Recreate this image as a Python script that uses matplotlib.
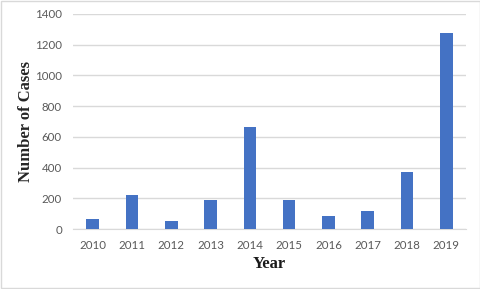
import matplotlib.pyplot as plt
import numpy as np

years = ['2010', '2011', '2012', '2013', '2014', '2015', '2016', '2017', '2018', '2019']
cases = [65, 220, 52, 189, 665, 189, 85, 117, 371, 1276]
yticks = [0, 200, 400, 600, 800, 1000, 1200, 1400]

fig = plt.figure(figsize=(4.81, 2.89), dpi=100)
# light border round the chart area
fig.patches.append(plt.Rectangle((0.002, 0.003), 0.995, 0.994, transform=fig.transFigure,
                                 fill=False, edgecolor='#d9d9d9', linewidth=1))
ax = fig.add_axes([73 / 481, 1 - 229 / 289, 393 / 481, 215 / 289])

x = np.arange(len(years))
ax.bar(x, cases, width=0.32, color='#4472c4', zorder=3)

ax.set_xlim(-0.5, len(years) - 0.5)
ax.set_ylim(0, 1400)
ax.set_yticks(yticks)
ax.set_xticks(x)
ax.set_xticklabels(years)
ax.grid(axis='y', color='#d9d9d9', linewidth=1, zorder=0)
for s in ['top', 'right', 'left']:
    ax.spines[s].set_visible(False)
ax.spines['bottom'].set_color('#d9d9d9')
ax.tick_params(length=0, labelsize=8.3, labelcolor='#595959')
ax.tick_params(axis='x', pad=8)
ax.tick_params(axis='y', pad=8)
for lab in ax.get_xticklabels() + ax.get_yticklabels():
    lab.set_family('Lato')

ax.set_xlabel('Year', fontsize=12, fontweight='bold', family='Liberation Serif', color='#1a1a1a')
ax.set_ylabel('Number of Cases', fontsize=12, fontweight='bold', family='Liberation Serif', color='#262626')
ax.xaxis.set_label_coords(0.5, -0.125)
ax.yaxis.set_label_coords(-0.098, 0.5)

fig.savefig('out.png', dpi=100)
